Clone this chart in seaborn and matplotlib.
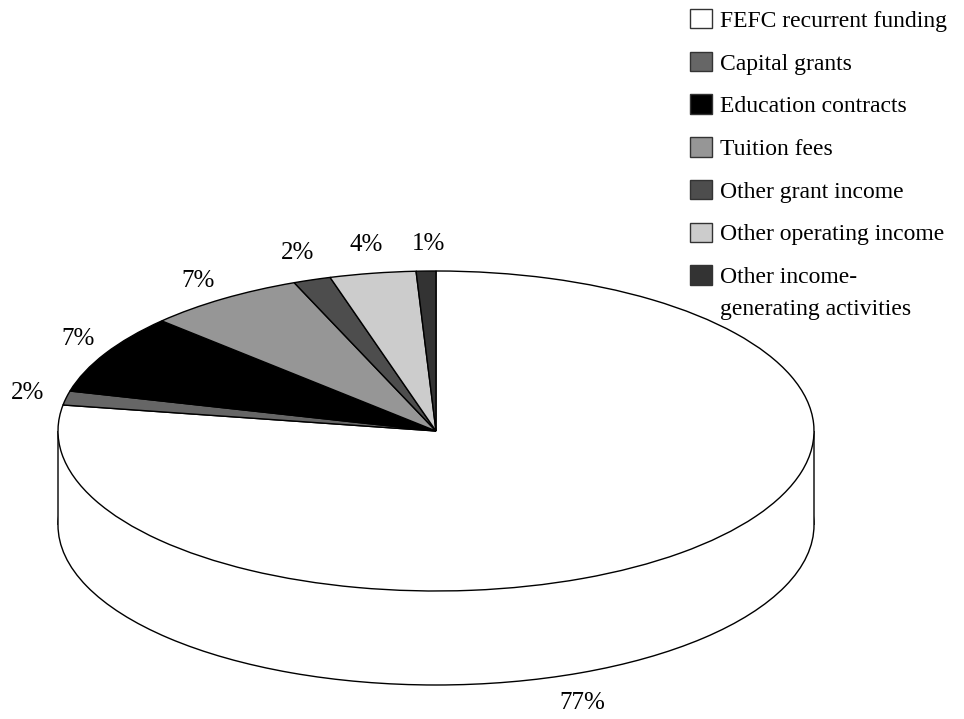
import seaborn as sns
import matplotlib.pyplot as plt
from matplotlib.patches import Patch

categories = ['FEFC recurrent funding', 'Capital grants', 'Education contracts', 'Tuition fees',
              'Other grant income', 'Other operating income', 'Other income-']
last_category_line2 = 'generating activities'
shares = [77.6, 1.42, 8.06, 6.8, 1.6, 3.68, 0.84]
labels = ['77%', '2%', '7%', '7%', '2%', '4%', '1%']
colours = ['#ffffff', '#666666', '#000000', '#969696', '#4d4d4d', '#cccccc', '#333333']

sns.set_theme(style='white')
plt.rcParams['font.family'] = ['Liberation Serif', 'DejaVu Serif']

W, H = 964, 719
CX, CY, RX, RY, DEPTH = 436, 431, 378, 160, 94


def px(x, y):
    # picture pixels to pie units
    return (x - CX) / RX, (CY - y) / RY


fig = plt.figure(figsize=(W / 100, H / 100), dpi=100)
ax = fig.add_axes([0, 0, 1, 1])

# side wall first, top face over it
drop = DEPTH / RY
ax.pie([1], colors=['white'], center=(0, -drop), startangle=90,
       wedgeprops={'edgecolor': 'black', 'linewidth': 1})
ax.fill_between([-1, 1], [-drop, -drop], [0, 0], color='white', lw=0, zorder=1.5)
ax.plot([-1, -1], [0, -drop], color='black', lw=1, zorder=1.6, solid_capstyle='butt', snap=False)
ax.plot([1, 1], [0, -drop], color='black', lw=1, zorder=1.6, solid_capstyle='butt', snap=False)

wedges, _ = ax.pie(shares, colors=colours, startangle=90, counterclock=False,
                   wedgeprops={'edgecolor': 'black', 'linewidth': 1, 'zorder': 2})

ax.set_aspect('auto')
ax.set_xlim(px(0, 0)[0], px(W, 0)[0])
ax.set_ylim(px(0, H)[1], px(0, 0)[1])
ax.axis('off')

label_pos = [(582, 703), (28, 393), (78, 339), (198, 281), (298, 253), (366, 245), (429, 244)]
for lab, (x, y) in zip(labels, label_pos):
    ax.text(*px(x, y), lab, ha='center', va='center', fontsize=18, color='black')

handles = [Patch(facecolor=c, edgecolor='#333333', linewidth=1) for c in colours]
ax.legend(handles, categories, loc='upper left', bbox_to_anchor=(690 / W, 1 - 9 / H),
          bbox_transform=fig.transFigure, frameon=False, fontsize=17, labelspacing=0.84,
          labelcolor='black', handlelength=0.93, handleheight=0.89, handletextpad=0.34,
          borderaxespad=0, borderpad=0)
ax.text(*px(720, 309), last_category_line2, ha='left', va='center', fontsize=17, color='black')

fig.savefig('out.png', dpi=100)
